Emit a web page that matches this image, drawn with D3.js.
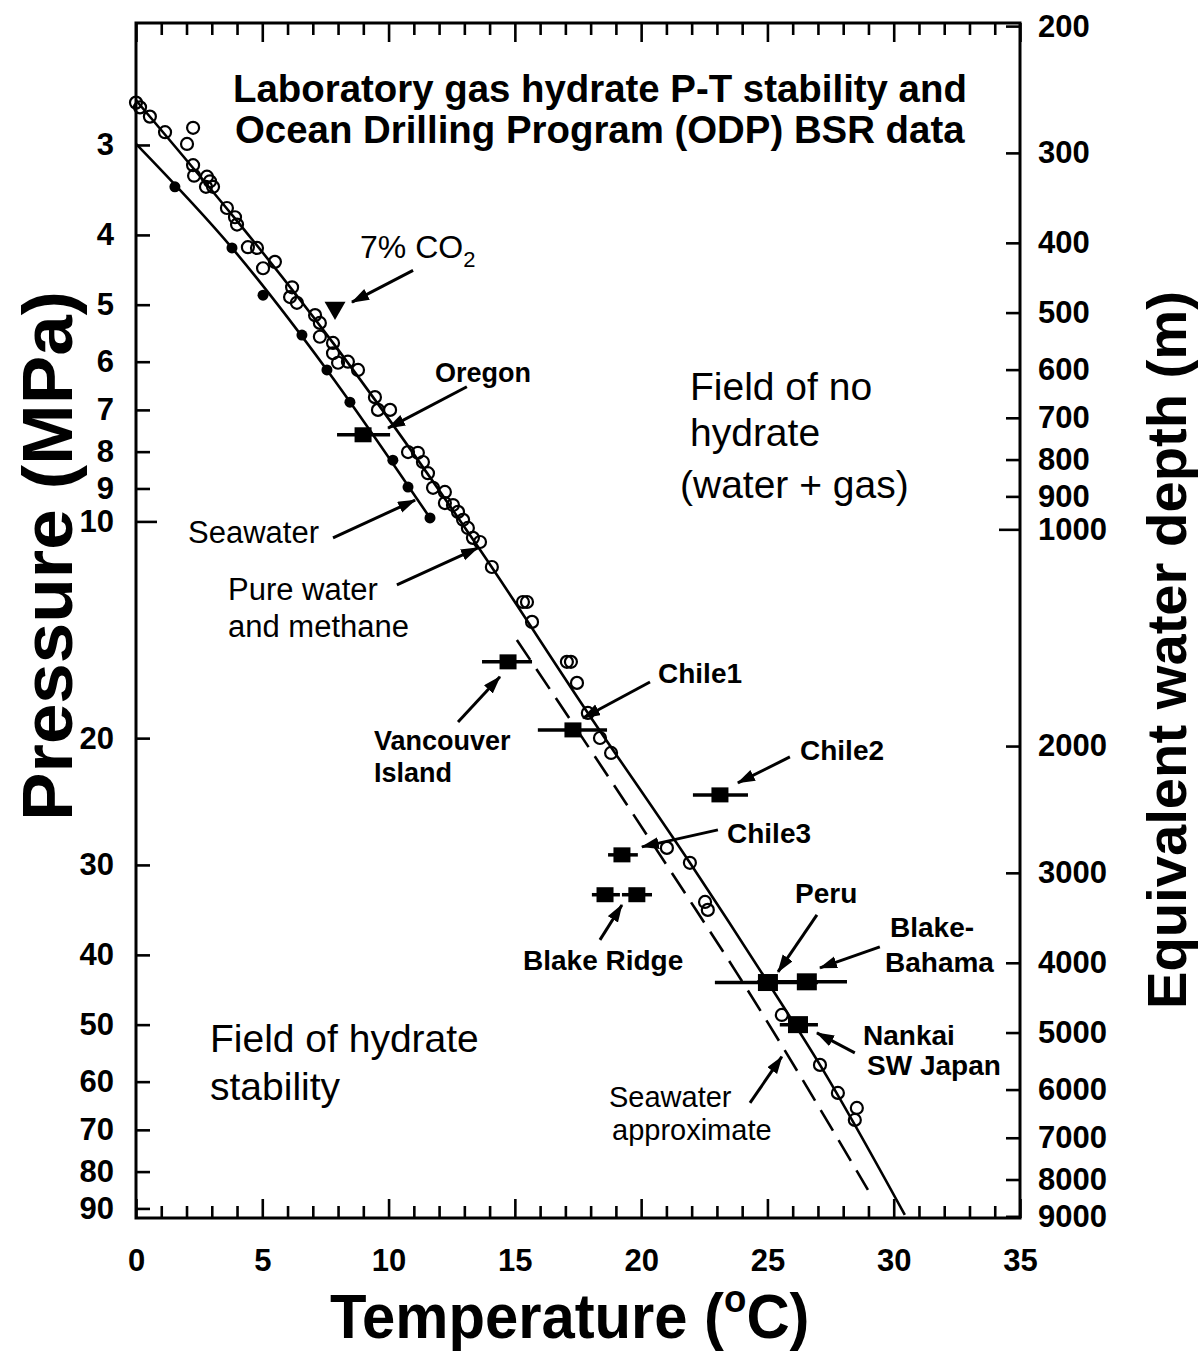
<!DOCTYPE html>
<html><head><meta charset="utf-8">
<script src="https://cdn.jsdelivr.net/npm/d3@7"></script>
<style>
body{margin:0;background:#fff}
svg{display:block}
text{font-family:"Liberation Sans",Arial,Helvetica,sans-serif;fill:#000}
</style>
</head><body>
<svg id="c" width="1199" height="1351"></svg>
<script>
// ---------------- DATA ----------------
const tempMajorTicks = [0,5,10,15,20,25,30,35];
const pressureTicks = [3,4,5,6,7,8,9,10,20,30,40,50,60,70,80,90];
const depthTicks = [200,300,400,500,600,700,800,900,1000,2000,3000,4000,5000,6000,7000,8000,9000];

// Laboratory pure water + methane (open circles) [T degC, P MPa]
const pureWaterObs = [
 [0.0,2.62],[0.16,2.66],[0.55,2.74],[1.15,2.88],[2.26,2.84],[2.02,2.99],[2.26,3.20],[2.30,3.31],
 [2.81,3.32],[2.93,3.37],[2.77,3.43],[3.05,3.43],[3.60,3.67],[3.92,3.78],[4.00,3.87],[4.43,4.16],
 [4.79,4.17],[5.50,4.36],[5.03,4.45],[6.18,4.73],[6.10,4.88],[6.37,4.97],[7.09,5.17],[7.28,5.30],
 [7.28,5.54],[7.80,5.65],[7.80,5.84],[8.00,6.02],[8.39,6.00],[8.79,6.16],[9.46,6.72],[9.58,7.00],
 [10.06,7.00],[10.77,8.01],[11.16,8.03],[11.36,8.27],[11.56,8.57],[11.76,8.98],[12.23,9.10],[12.23,9.43],
 [12.55,9.49],[12.75,9.70],[12.95,9.95],[13.14,10.21],[13.34,10.54],[13.62,10.68],[14.09,11.57],[15.32,12.94],
 [15.48,12.94],[15.68,13.79],[17.06,15.67],[17.22,15.67],[17.46,16.76],[17.89,18.45],[18.37,19.99],[18.81,20.97],
 [21.02,28.41],[21.93,29.8],[22.53,33.77],[22.64,34.64],[25.57,48.47],[27.08,56.87],[27.79,62.2],[28.54,65.26],
 [28.46,67.81]
];
// Laboratory seawater (filled circles)
const seawaterObs = [[1.54,3.43],[3.80,4.17],[5.03,4.85],[6.57,5.51],[7.56,6.16],[8.47,6.83],[10.17,8.22],[10.77,8.96],[11.64,9.89]];
// 7% CO2 (triangle)
const co2Obs = [[7.88,5.05]];
// Phase boundary curves
const pureWaterCurve = [[0,2.60],[7.80,5.65],[13.62,10.95],[17.89,18.45],[21.93,29.8],[25.02,43.7],[27.08,56.87],[30.44,91.9]];
const seawaterCurve = [[0,2.99],[3.80,4.17],[7.56,6.16],[11.64,9.89]];
const seawaterApproxCurve = [[15.08,14.61],[21.73,32.8],[23.79,42.4],[28.98,84.8]];
// ODP BSR sites (squares with horizontal error bars)
const bsrSites = ["Oregon","Vancouver Island","Chile1","Chile2","Chile3","Blake Ridge a","Blake Ridge b","Peru","Blake-Bahama","Nankai"];
const bsrT    = [8.99, 14.73, 17.30, 23.12, 19.24, 18.57, 19.83, 25.02, 26.56, 26.21];
const bsrP    = [7.58, 15.67, 19.48, 23.98, 29.05, 33.0, 33.0, 43.7, 43.6, 50.0];
const bsrTmin = [7.96, 13.70, 15.91, 22.05, 18.69, 18.05, 19.24, 22.92, 24.6, 25.49];
const bsrTmax = [10.06, 15.68, 18.65, 24.23, 19.87, 19.16, 20.43, 27.0, 28.15, 27.0];
// Annotation arrows [fromT, fromP, toT, toP]
const arrows = [
 [10.97,4.48, 8.55,4.96],   // 7% CO2
 [13.10,6.50, 9.98,7.42],   // Oregon
 [7.80,10.54, 11.05,9.34],  // Seawater
 [10.33,12.25, 13.54,10.88],// Pure water
 [12.75,18.99, 14.41,16.44],// Vancouver
 [20.35,16.71, 17.70,18.75],// Chile1
 [25.89,21.24, 23.83,23.08],// Chile2
 [23.04,26.82, 20.03,28.32],// Chile3
 [18.37,38.13, 19.24,34.1], // Blake Ridge
 [26.96,35.2, 25.42,42.24], // Peru
 [29.45,39.0, 27.08,41.7],  // Blake-Bahama
 [28.46,54.73, 26.96,51.34],// Nankai
 [24.31,64.2, 25.57,55.4]   // Seawater approximate
];

// ---------------- LAYOUT ----------------
const L=136, R=1020, T=23, B=1218;
const x = d3.scaleLinear().domain([0,35]).range([L,R]);
const y = d3.scaleLog().domain([2.031,92.8]).range([T,B]);
const yd = d3.scaleLog().domain([2.031*97.5,92.8*97.5]).range([T,B]);

const svg = d3.select("#c");
svg.append("rect").attr("width",1199).attr("height",1351).attr("fill","#fff");

const defs = svg.append("defs");
defs.append("marker").attr("id","ah").attr("markerUnits","userSpaceOnUse")
  .attr("markerWidth",20).attr("markerHeight",14).attr("refX",17).attr("refY",6)
  .attr("orient","auto")
  .append("path").attr("d","M0,0 L18,6 L0,12 Z").attr("fill","#000");

function styleAxis(g, fs){
  g.select(".domain").remove();
  g.selectAll(".tick line").attr("stroke","#000").attr("stroke-width",2.6);
  g.selectAll(".tick text").attr("font-size",fs).attr("font-weight","bold").attr("fill","#000")
    .style("font-family",'"Liberation Sans",Arial,sans-serif');
}
const minorT = d3.range(0,36).filter(d=>d%5!==0);

// bottom
styleAxis(svg.append("g").attr("transform",`translate(0,${B})`)
  .call(d3.axisBottom(x).tickValues(tempMajorTicks).tickSizeInner(-19).tickSizeOuter(0).tickPadding(31).tickFormat(d3.format("d"))),31);
styleAxis(svg.append("g").attr("transform",`translate(0,${B})`)
  .call(d3.axisBottom(x).tickValues(minorT).tickSizeInner(-12).tickSizeOuter(0).tickFormat("")),31);
// top
styleAxis(svg.append("g").attr("transform",`translate(0,${T})`)
  .call(d3.axisTop(x).tickValues(tempMajorTicks).tickSizeInner(-19).tickSizeOuter(0).tickFormat("")),31);
styleAxis(svg.append("g").attr("transform",`translate(0,${T})`)
  .call(d3.axisTop(x).tickValues(minorT).tickSizeInner(-12).tickSizeOuter(0).tickFormat("")),31);
// left
const gl = svg.append("g").attr("transform",`translate(${L},0)`)
  .call(d3.axisLeft(y).tickValues(pressureTicks).tickSizeInner(-14).tickSizeOuter(0).tickPadding(22).tickFormat(d=>String(d)));
styleAxis(gl,31);
gl.selectAll(".tick").filter(d=>d===10).select("line").attr("x2",21);
// right
const gr = svg.append("g").attr("transform",`translate(${R},0)`)
  .call(d3.axisRight(yd).tickValues(depthTicks).tickSizeInner(-14).tickSizeOuter(0).tickPadding(18).tickFormat(d=>String(d)));
styleAxis(gr,31);
gr.selectAll(".tick").filter(d=>d===1000).select("line").attr("x2",-21);

// frame
svg.append("rect").attr("x",L).attr("y",T).attr("width",R-L).attr("height",B-T)
  .attr("fill","none").attr("stroke","#000").attr("stroke-width",3);

// curves
const line = d3.line().x(d=>x(d[0])).y(d=>y(d[1])).curve(d3.curveMonotoneX);
svg.append("path").attr("d",line(pureWaterCurve)).attr("fill","none").attr("stroke","#000").attr("stroke-width",2.6);
svg.append("path").attr("d",line(seawaterCurve)).attr("fill","none").attr("stroke","#000").attr("stroke-width",2.6);
svg.append("path").attr("d",line(seawaterApproxCurve)).attr("fill","none").attr("stroke","#000").attr("stroke-width",2.6)
  .attr("stroke-dasharray","24,11");

// points
svg.append("g").selectAll("circle").data(pureWaterObs).join("circle")
  .attr("cx",d=>x(d[0])).attr("cy",d=>y(d[1])).attr("r",6)
  .attr("fill","none").attr("stroke","#000").attr("stroke-width",2.2);
svg.append("g").selectAll("circle").data(seawaterObs).join("circle")
  .attr("cx",d=>x(d[0])).attr("cy",d=>y(d[1])).attr("r",5.5).attr("fill","#000");
svg.append("g").selectAll("path").data(co2Obs).join("path")
  .attr("d",d3.symbol(d3.symbolTriangle,190))
  .attr("transform",d=>`translate(${x(d[0])},${y(d[1])}) rotate(180)`).attr("fill","#000");

// BSR squares
const bsr = bsrSites.map((s,i)=>({s,t:bsrT[i],p:bsrP[i],lo:bsrTmin[i],hi:bsrTmax[i]}));
const gb = svg.append("g");
gb.selectAll("line").data(bsr).join("line")
  .attr("x1",d=>x(d.lo)).attr("x2",d=>x(d.hi)).attr("y1",d=>y(d.p)).attr("y2",d=>y(d.p))
  .attr("stroke","#000").attr("stroke-width",3.5);
const big = new Set(["Peru","Blake-Bahama","Nankai"]);
gb.selectAll("rect").data(bsr).join("rect")
  .attr("x",d=>x(d.t)-(big.has(d.s)?10:8.5)).attr("y",d=>y(d.p)-(big.has(d.s)?8.5:7.5))
  .attr("width",d=>big.has(d.s)?20:17).attr("height",d=>big.has(d.s)?17:15).attr("fill","#000");

// arrows
svg.append("g").selectAll("line").data(arrows).join("line")
  .attr("x1",d=>x(d[0])).attr("y1",d=>y(d[1])).attr("x2",d=>x(d[2])).attr("y2",d=>y(d[3]))
  .attr("stroke","#000").attr("stroke-width",3).attr("marker-end","url(#ah)");

// text helper
function txt(s,xp,yp,fs,bold,anchor){
  return svg.append("text").attr("x",xp).attr("y",yp).attr("font-size",fs)
    .attr("font-weight",bold?"bold":"normal").attr("text-anchor",anchor||"start").text(s);
}
// title
txt("Laboratory gas hydrate P-T stability and",233,102,38.4,true);
txt("Ocean Drilling Program (ODP) BSR data",235,143,38.4,true);

// 7% CO2
const co2 = txt("7% CO",360,258,32,false);
co2.append("tspan").attr("font-size",22).attr("dy",9).text("2");

txt("Oregon",435,382,27,true);
txt("Field of no",690,400,39,false);
txt("hydrate",690,446,39,false);
txt("(water + gas)",680,498,39,false);
txt("Seawater",188,543,31,false);
txt("Pure water",228,600,31,false);
txt("and methane",228,637,31,false);
txt("Vancouver",374,750,27,true);
txt("Island",374,782,27,true);
txt("Chile1",658,683,28,true);
txt("Chile2",800,760,28,true);
txt("Chile3",727,843,28,true);
txt("Blake Ridge",523,970,28,true);
txt("Peru",795,903,28,true);
txt("Blake-",890,937,28,true);
txt("Bahama",885,972,28,true);
txt("Nankai",863,1045,28,true);
txt("SW Japan",867,1075,28,true);
txt("Seawater",609,1107,29,false);
txt("approximate",612,1140,29,false);
txt("Field of hydrate",210,1052,39,false);
txt("stability",210,1100,39,false);

// axis titles
svg.append("text").attr("transform","translate(72,556) rotate(-90)").attr("text-anchor","middle")
  .attr("font-size",70).attr("font-weight","bold").attr("textLength",530).attr("lengthAdjust","spacingAndGlyphs")
  .text("Pressure (MPa)");
svg.append("text").attr("transform","translate(1186,650) rotate(-90)").attr("text-anchor","middle")
  .attr("font-size",56).attr("font-weight","bold").attr("textLength",718).attr("lengthAdjust","spacingAndGlyphs")
  .text("Equivalent water depth (m)");
const xt = svg.append("g").attr("transform","translate(330,1338) scale(0.964,1)")
  .append("text").attr("x",0).attr("y",0).attr("font-size",62).attr("font-weight","bold");
xt.append("tspan").text("Temperature (");
xt.append("tspan").attr("font-size",38).attr("dy",-26).text("o");
xt.append("tspan").attr("dy",26).text("C)");
</script>
</body></html>
